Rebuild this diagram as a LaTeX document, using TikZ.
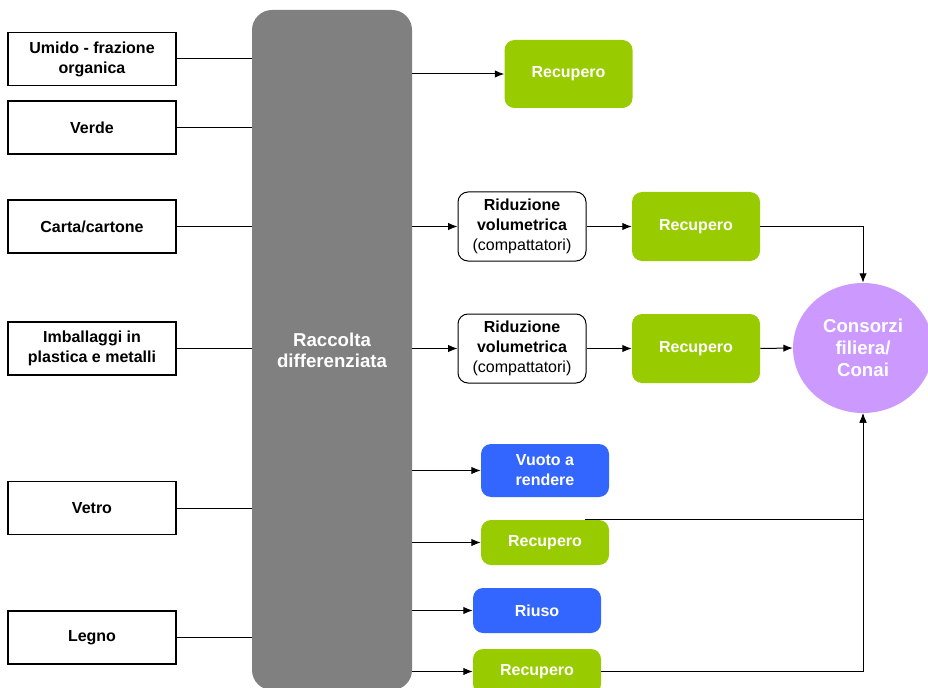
\documentclass[tikz,border=0pt]{standalone}
\usepackage{fontspec}
\setmainfont{Liberation Sans}
\usetikzlibrary{arrows.meta,shapes.geometric,calc}
\definecolor{cgreen}{HTML}{99CC00}
\definecolor{cblue}{HTML}{3366FF}
\definecolor{cpurple}{HTML}{CC99FF}
\definecolor{cgray}{HTML}{808080}
\begin{document}
\begin{tikzpicture}[x=0.75pt,y=-0.75pt,
  every node/.style={font=\fontsize{12}{15}\selectfont\bfseries, align=center, inner sep=0pt},
  srcbox/.style={draw=black, line width=0.9pt, fill=white, minimum width=126pt, minimum height=39.75pt},
  greenbox/.style={fill=cgreen, text=white, rounded corners=7.5pt, minimum width=96pt},
  bluebox/.style={fill=cblue, text=white, rounded corners=7.5pt, minimum width=96pt},
  ridbox/.style={draw=black, line width=0.75pt, fill=white, rounded corners=7.5pt, minimum width=96pt, minimum height=51.75pt},
  conn/.style={draw=black, line width=0.75pt},
  arr/.style={conn, -{Latex[length=7pt,width=5.5pt]}}
]
\useasboundingbox (0,0) rectangle (928,688);

% collection block
\node[fill=cgray, rounded corners=15pt, minimum width=120pt, minimum height=510pt,
      text=white, font=\fontsize{14}{15.75}\selectfont\bfseries] (gray) at (332,350) {Raccolta\\differenziata};

% sources
\node[srcbox] (umido) at (92,59) {Umido - frazione\\organica};
\node[srcbox] (verde) at (92,127.5) {Verde};
\node[srcbox] (carta) at (92,226.5) {Carta/cartone};
\node[srcbox] (imball) at (92,348.5) {Imballaggi in\\plastica e metalli};
\node[srcbox] (vetro) at (92,508) {Vetro};
\node[srcbox] (legno) at (92,637.5) {Legno};

% destinations
\node[greenbox, minimum height=51pt] (rec1) at (568.5,74) {Recupero};
\node[ridbox] (rid1) at (522,226.5) {Riduzione\\volumetrica\\{\mdseries(compattatori)}};
\node[greenbox, minimum height=51.75pt] (rec2) at (696,226.5) {Recupero};
\node[ridbox] (rid2) at (522,348.5) {Riduzione\\volumetrica\\{\mdseries(compattatori)}};
\node[greenbox, minimum height=51.75pt] (rec3) at (696,348.5) {Recupero};
\node[ellipse, fill=cpurple, text=white, minimum width=105pt, minimum height=97.5pt,
      font=\fontsize{14}{16.5}\selectfont\bfseries] (circ) at (863,348) {Consorzi\\filiera/\\Conai};
\node[bluebox, minimum height=39.75pt] (vuoto) at (545,470.5) {Vuoto a\\rendere};
\node[greenbox, minimum height=33.75pt] (rec4) at (545,542.5) {Recupero};
\node[bluebox, minimum height=33.75pt] (riuso) at (537,610.5) {Riuso};
\node[greenbox, minimum height=33.75pt] (rec5) at (537,671.5) {Recupero};

% sources to collection
\foreach \s in {umido,verde,carta,imball,vetro,legno}
  \draw[conn] (\s.east) -- (\s.east -| gray.west);

% collection to destinations
\foreach \d in {rec1,rid1,rid2,vuoto,rec4,riuso,rec5}
  \draw[arr] (gray.east |- \d.west) -- (\d.west);

\draw[arr] (rid1.east) -- (rec2.west);
\draw[arr] (rid2.east) -- (rec3.west);
\draw[arr] (rec2.east) -| (circ.north);
\draw[arr] (rec3.east) -- (circ.west);
\draw[arr] ([xshift=30pt]rec4.north) -| (circ.south);
\draw[arr] (rec5.east) -| (circ.south);
\end{tikzpicture}
\end{document}
